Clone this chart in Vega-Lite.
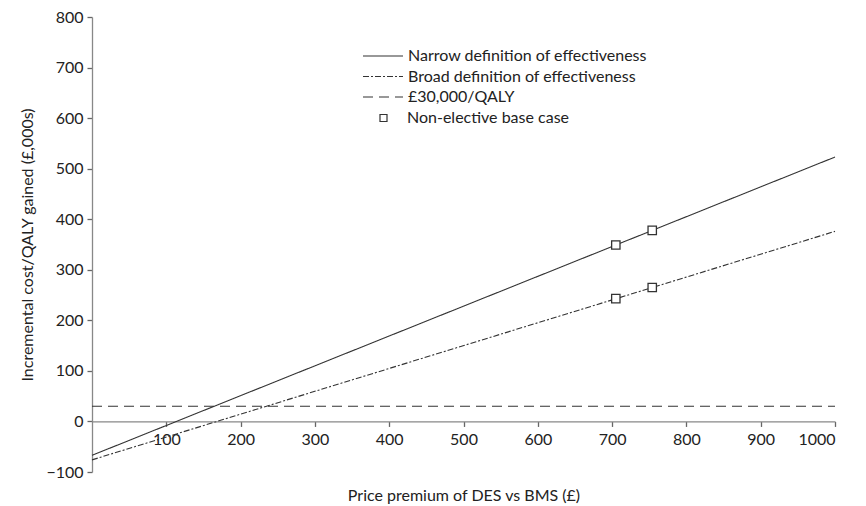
{
  "$schema": "https://vega.github.io/schema/vega-lite/v6.json",
  "width": 743,
  "height": 455,
  "autosize": {"type": "none"},
  "padding": {"left": 92, "top": 17, "right": 31, "bottom": 34},
  "background": "white",
  "config": {
    "view": {"stroke": null},
    "font": "Lato",
    "axis": {"grid": false, "domainColor": "#888", "domainWidth": 1.3, "tickColor": "#666", "tickWidth": 1.3, "labelColor": "#222", "titleColor": "#222", "labelFontSize": 16, "titleFontSize": 16, "titleFontWeight": "normal", "labelFont": "Lato", "titleFont": "Lato", "tickSize": 5},
    "legend": {"labelFont": "Lato", "labelFontSize": 16, "labelColor": "#222", "labelLimit": 400, "symbolStrokeWidth": 1.2, "symbolOpacity": 1}
  },
  "datasets": {
    "lines": [
      {"series": "Narrow definition of effectiveness", "price": 0, "icer": -67},
      {"series": "Narrow definition of effectiveness", "price": 1000, "icer": 523},
      {"series": "Broad definition of effectiveness", "price": 0, "icer": -76},
      {"series": "Broad definition of effectiveness", "price": 1000, "icer": 376},
      {"series": "£30,000/QALY", "price": 0, "icer": 30},
      {"series": "£30,000/QALY", "price": 1000, "icer": 30}
    ],
    "points": [
      {"series": "Non-elective base case", "price": 705, "icer": 349},
      {"series": "Non-elective base case", "price": 754, "icer": 378},
      {"series": "Non-elective base case", "price": 705, "icer": 243},
      {"series": "Non-elective base case", "price": 754, "icer": 265}
    ]
  },
  "layer": [
    {
      "data": {"name": "lines"},
      "mark": {"type": "line", "color": "#333", "strokeWidth": 1.1},
      "encoding": {
        "x": {"field": "price", "type": "quantitative", "scale": {"domain": [0, 1000], "nice": false},
          "axis": {"title": "Price premium of DES vs BMS (£)", "format": "d", "values": [100,200,300,400,500,600,700,800,900,1000], "offset": -50.56, "labelPadding": 5, "titleY": 74, "titleBaseline": "middle"}},
        "y": {"field": "icer", "type": "quantitative", "scale": {"domain": [-100, 800], "nice": false},
          "axis": {"title": "Incremental cost/QALY gained (£,000s)", "values": [-100,0,100,200,300,400,500,600,700,800], "labelPadding": 4, "titlePadding": 10}},
        "detail": {"field": "series"},
        "strokeDash": {"field": "series", "type": "nominal",
          "scale": {"domain": ["Narrow definition of effectiveness", "Broad definition of effectiveness", "£30,000/QALY"],
                    "range": [[1, 0], [6, 2, 2, 2], [10, 6]]},
          "legend": {"title": null, "orient": "none", "legendX": 283, "legendY": 31, "rowPadding": 4.5, "symbolType": "M-5,0H5", "symbolSize": 64, "labelOffset": 17}}
      }
    },
    {
      "data": {"name": "points"},
      "mark": {"type": "point", "filled": true, "color": "white", "size": 70, "opacity": 1, "shape": "square"},
      "encoding": {
        "x": {"field": "price", "type": "quantitative"},
        "y": {"field": "icer", "type": "quantitative"}
      }
    },
    {
      "data": {"name": "points"},
      "mark": {"type": "point", "filled": false, "color": "#333", "strokeWidth": 1.3, "size": 70, "opacity": 1},
      "encoding": {
        "x": {"field": "price", "type": "quantitative"},
        "y": {"field": "icer", "type": "quantitative"},
        "shape": {"field": "series", "type": "nominal",
          "scale": {"domain": ["Non-elective base case"], "range": ["square"]},
          "legend": {"title": null, "orient": "none", "legendX": 283.5, "legendY": 93, "symbolSize": 49, "labelOffset": 15.5}}
      }
    }
  ]
}
